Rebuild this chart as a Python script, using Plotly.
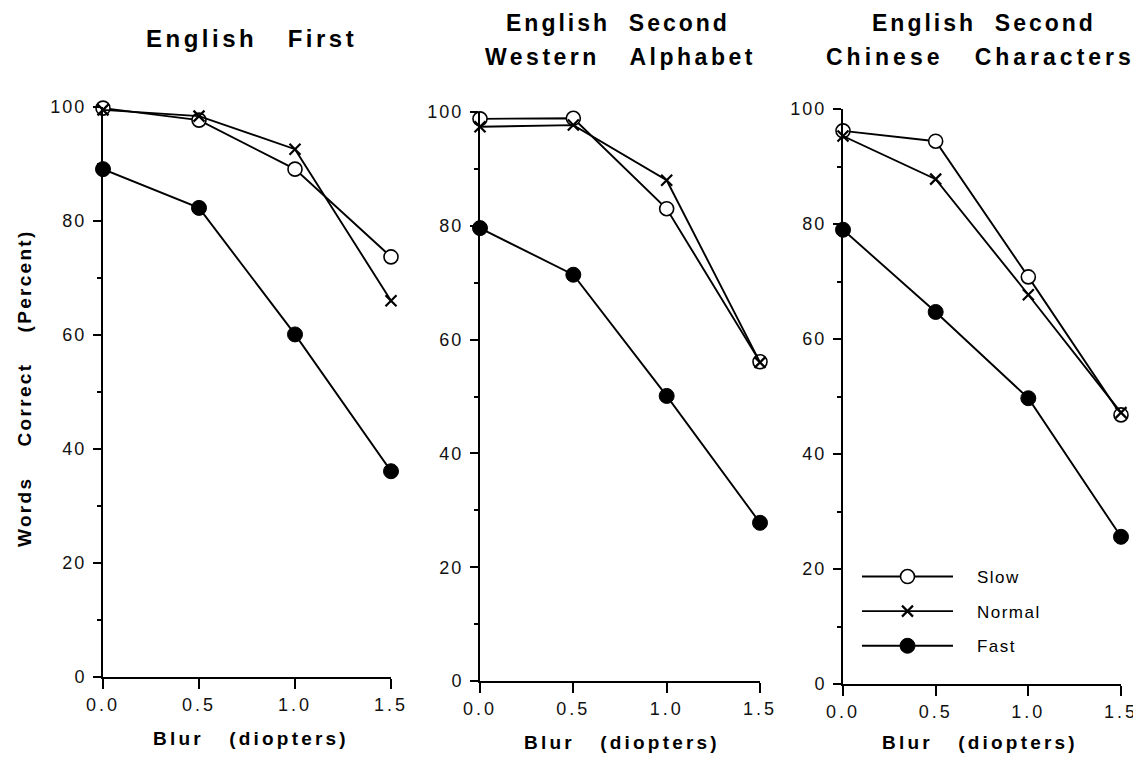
import plotly.graph_objects as go

W, H = 1141, 758
FONT = "Liberation Sans, Arial, Helvetica, sans-serif"
PAGE_OFFSET = 8  # default page margin of the HTML body

# ---------------- data ----------------
blur = [0.0, 0.5, 1.0, 1.5]
x_tick_vals = [0.0, 0.5, 1.0, 1.5]
x_tick_labels = ["0.0", "0.5", "1.0", "1.5"]
y_tick_vals = [0, 20, 40, 60, 80, 100]
y_tick_labels = ["0", "20", "40", "60", "80", "100"]

series_names = ["Slow", "Normal", "Fast"]

slow_first = [99.8, 97.7, 89.1, 73.7]
normal_first = [99.5, 98.4, 92.6, 66.0]
fast_first = [89.1, 82.3, 60.1, 36.1]

slow_western = [98.8, 98.9, 83.0, 56.1]
normal_western = [97.4, 97.7, 88.0, 56.0]
fast_western = [79.6, 71.4, 50.1, 27.8]

slow_chinese = [96.2, 94.4, 70.8, 46.8]
normal_chinese = [95.3, 87.8, 67.7, 47.2]
fast_chinese = [79.0, 64.7, 49.7, 25.6]

title_first = ["English   First"]
title_western = ["English  Second", "Western   Alphabet"]
title_chinese = ["English  Second", "Chinese   Characters"]

x_title = "Blur   (diopters)"
y_title = "Words    Correct    (Percent)"

# ---------------- layout helpers ----------------
def px_x(p):
    return (p - PAGE_OFFSET) / W

def px_y(p):
    return (H - (p - PAGE_OFFSET)) / H

def spaced(text, ls):
    return '<span style="letter-spacing:%gpx">%s</span>' % (ls, text.replace(" ", "\u00a0"))

# panel pixel frames: (x0, x1, y_bottom, y_top)
frames = [(103, 391, 677, 107), (480, 760, 681, 112), (843, 1121, 684, 109)]
panel_data = [
    (slow_first, normal_first, fast_first),
    (slow_western, normal_western, fast_western),
    (slow_chinese, normal_chinese, fast_chinese),
]
panel_titles = [title_first, title_western, title_chinese]
# ([line center x], [line y], font size, [letter spacing per line])
title_specs = [([251], [39], 24, [3.5]),
               ([618, 620], [23, 57], 23, [3.0, 3.5]),
               ([984, 980], [23, 57], 23, [3.0, 4.0])]
xtitle_pos = [(251, 738), (622, 742), (980, 742)]

fig = go.Figure()

styles = {
    "Slow": dict(symbol="circle", size=14, color="white", line=dict(color="black", width=1.6)),
    "Normal": dict(symbol="x-thin", size=11, color="black", line=dict(color="black", width=2.2)),
    "Fast": dict(symbol="circle", size=15, color="black", line=dict(color="black", width=1)),
}

for i, (series, frame) in enumerate(zip(panel_data, frames)):
    ax = "" if i == 0 else str(i + 1)
    for name, vals in zip(series_names, series):
        fig.add_trace(go.Scatter(
            x=blur, y=vals, mode="lines+markers",
            name=("\u00a0\u00a0\u00a0\u00a0" + spaced(name, 1.5)),
            legendgroup=name, showlegend=(i == 2),
            line=dict(color="black", width=1.9),
            marker=styles[name],
            cliponaxis=False,
            xaxis="x" + ax, yaxis="y" + ax,
        ))
    x0, x1, yb, yt = frame
    common_axis = dict(
        showline=True, linecolor="black", linewidth=2,
        ticks="outside", tickcolor="black", tickwidth=2,
        showgrid=False, zeroline=False, automargin=False,
        tickfont=dict(family=FONT, size=18, color="#111"),
    )
    fig.layout["xaxis" + ax] = dict(
        common_axis, domain=[px_x(x0), px_x(x1)], range=[0, 1.5],
        tickvals=x_tick_vals, ticktext=[spaced(t, 3) for t in x_tick_labels],
        ticklen=10, anchor="y" + ax,
    )
    fig.layout["yaxis" + ax] = dict(
        common_axis, domain=[px_y(yb), px_y(yt)], range=[0, 100],
        tickvals=y_tick_vals, ticktext=[spaced(t, 2) for t in y_tick_labels],
        ticklen=8, anchor="x" + ax, ticklabelstandoff=3,
        minor=dict(dtick=10, ticks="outside", ticklen=4, tickwidth=1.5, tickcolor="black"),
    )

annotations = []
for (cxs, ys, fs, lss), lines in zip(title_specs, panel_titles):
    for cx, yy, ls, line in zip(cxs, ys, lss, lines):
        annotations.append(dict(
            text="<b>" + spaced(line, ls) + "</b>", x=px_x(cx), y=px_y(yy),
            xref="paper", yref="paper", xanchor="center", yanchor="middle",
            showarrow=False, font=dict(family=FONT, size=fs, color="black"),
        ))
for cx, cy in xtitle_pos:
    annotations.append(dict(
        text="<b>" + spaced(x_title, 3.2) + "</b>", x=px_x(cx), y=px_y(cy),
        xref="paper", yref="paper", xanchor="center", yanchor="middle",
        showarrow=False, font=dict(family=FONT, size=19, color="black"),
    ))
annotations.append(dict(
    text="<b>" + spaced(y_title, 2.3) + "</b>", x=px_x(24), y=px_y(388),
    xref="paper", yref="paper", xanchor="center", yanchor="middle",
    textangle=-90, showarrow=False, font=dict(family=FONT, size=19, color="black"),
))

fig.update_layout(
    width=W, height=H,
    margin=dict(l=0, r=0, t=0, b=0, pad=0, autoexpand=False),
    paper_bgcolor="white", plot_bgcolor="white",
    annotations=annotations,
    showlegend=True,
    legend=dict(
        x=px_x(857), y=px_y(559), xanchor="left", yanchor="top",
        bgcolor="rgba(0,0,0,0)", itemwidth=91, tracegroupgap=9.5,
        font=dict(family=FONT, size=17, color="black"),
        itemclick=False, itemdoubleclick=False,
    ),
)

fig.write_html("out.html")
